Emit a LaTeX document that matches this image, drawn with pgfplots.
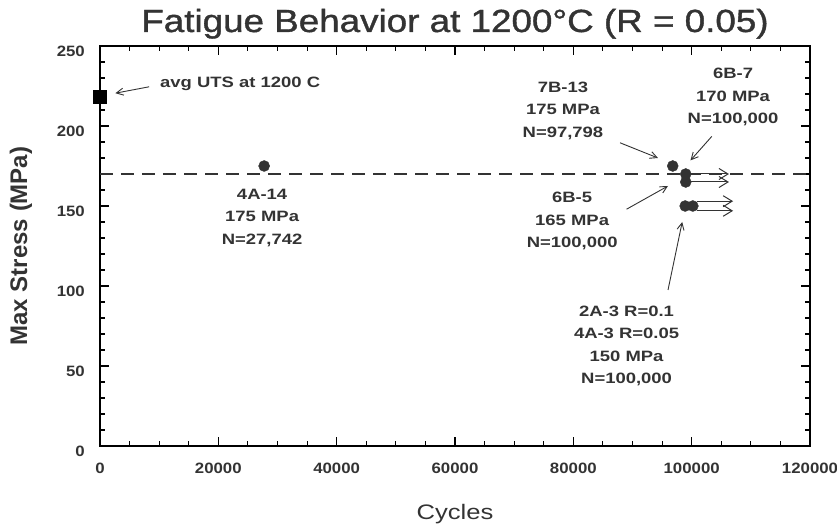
\documentclass[border=0pt]{standalone}
\usepackage{fontspec}
\setmainfont{Liberation Sans}
\newfontfamily\annfont[FakeStretch=1.23]{Liberation Sans}
\newfontfamily\tickfont[FakeStretch=1.12]{Liberation Sans}
\newfontfamily\titlefont[FakeStretch=1.15,FakeBold=1.2]{Liberation Sans}
\newfontfamily\xlabfont[FakeStretch=1.22]{Liberation Sans}
\usepackage{pgfplots}
\pgfplotsset{compat=1.18}
\usetikzlibrary{arrows.meta}
\definecolor{txt}{HTML}{333333}
\definecolor{mk}{HTML}{333333}
\begin{document}
\begin{tikzpicture}
\begin{axis}[
  name=ax,
  scale only axis, width=710pt, height=400pt,
  xmin=0, xmax=120000, ymin=0, ymax=250,
  xtick={0,20000,...,120000}, ytick={0,50,...,250},
  minor x tick num=3, minor y tick num=4,
  scaled x ticks=false,
  /pgf/number format/assume math mode=true,
  xticklabel={\pgfmathprintnumber[fixed,1000 sep={}]{\tick}},
  tick label style={font=\tickfont\bfseries\fontsize{15}{17}\selectfont, text=txt, inner sep=0pt},
  xticklabel style={anchor=base, yshift=-28pt},
  yticklabel style={anchor=east, xshift=-15pt, yshift=-5pt},
  tick align=inside,
  major tick length=9pt, minor tick length=5pt,
  axis line style={line width=1.3pt},
  every tick/.style={black, line width=1.1pt},
  title={\titlefont\fontsize{32}{36}\selectfont Fatigue Behavior at 1200\textdegree C (R = 0.05)},
  title style={text=txt, at={(axis description cs:0.5,1)}, anchor=base, yshift=8pt, inner sep=0pt},
  xlabel={\xlabfont\fontsize{21}{24}\selectfont Cycles},
  ylabel={\bfseries\fontsize{24}{26}\selectfont Max Stress (MPa)},
  xlabel style={text=txt, at={(axis description cs:0.5,0)}, anchor=base, yshift=-74pt, inner sep=0pt},
  ylabel style={text=txt, at={(axis description cs:-0.1113,0.5)}, anchor=center, inner sep=0pt},
  clip=false,
]
% dashed reference line
\addplot[dash pattern=on 13pt off 8pt, line width=1.4pt, txt] coordinates {(0,170) (120000,170)};
% avg UTS
\addplot[only marks, mark=square*, mark size=6.5pt, black] coordinates {(0,218)};
% specimens
\addplot[only marks, mark=*, mark size=5.5pt, mk] coordinates {(27742,175) (96800,175) (99000,170) (99000,165) (98900,150) (100200,150)};
% runout arrows
\addplot[-{Straight Barb[length=9pt,width=11pt]}, line width=1pt, txt] coordinates {(99700,170) (106300,170)};
\addplot[-{Straight Barb[length=9pt,width=11pt]}, line width=1pt, txt] coordinates {(99700,165) (106300,165)};
\addplot[-{Straight Barb[length=9pt,width=11pt]}, line width=1pt, txt] coordinates {(100900,153) (107000,153)};
\addplot[-{Straight Barb[length=9pt,width=11pt]}, line width=1pt, txt] coordinates {(100900,147) (107000,147)};
% annotations
\tikzset{ann/.style={font=\annfont\bfseries\fontsize{15}{22.5}\selectfont, text=txt, align=center, inner sep=0pt}}
\node[ann, anchor=base west] at (axis cs:10141,224) {avg UTS at 1200 C};
\draw[-{Straight Barb[length=7pt,width=7pt]}, line width=0.9pt, txt] (axis cs:8300,224.5) -- (axis cs:2600,220.5);
\node[ann] at (axis cs:27400,142.5) {4A-14\\175 MPa\\N=27,742};
\node[ann] at (axis cs:78250,209.5) {7B-13\\175 MPa\\N=97,798};
\draw[-{Straight Barb[length=7pt,width=7pt]}, line width=0.9pt, txt] (axis cs:87900,189.5) -- (axis cs:94300,180);
\node[ann] at (axis cs:107000,218) {6B-7\\170 MPa\\N=100,000};
\draw[-{Straight Barb[length=7pt,width=7pt]}, line width=0.9pt, txt] (axis cs:103400,193.5) -- (axis cs:99800,178.5);
\node[ann] at (axis cs:79800,140.5) {6B-5\\165 MPa\\N=100,000};
\draw[-{Straight Barb[length=7pt,width=7pt]}, line width=0.9pt, txt] (axis cs:89000,148) -- (axis cs:96000,162.5);
\node[ann] at (axis cs:89000,62.5) {2A-3 R=0.1\\4A-3 R=0.05\\150 MPa\\N=100,000};
\draw[-{Straight Barb[length=7pt,width=7pt]}, line width=0.9pt, txt] (axis cs:96000,97.5) -- (axis cs:98400,140);
\end{axis}
\pgfresetboundingbox
\path[use as bounding box] ([shift={(-100pt,-83pt)}]ax.south west) rectangle ([shift={(27pt,46pt)}]ax.north east);
\end{tikzpicture}
\end{document}
